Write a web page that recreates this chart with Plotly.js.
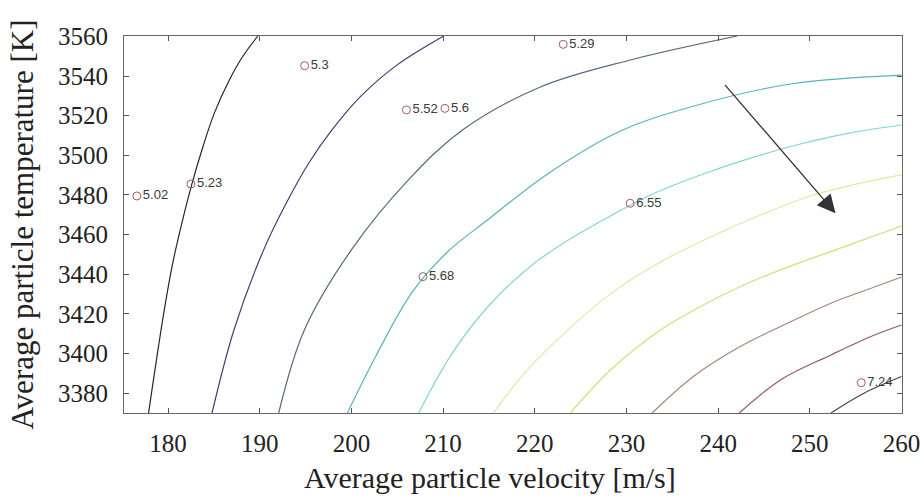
<!DOCTYPE html>
<html>
<head>
<meta charset="utf-8">
<script src="https://cdn.plot.ly/plotly-3.0.1.min.js"></script>
<style>html,body{margin:0;padding:0;background:#fff;}#chart{width:920px;height:497px;}</style>
</head>
<body>
<div id="chart"></div>
<script>
// Contour lines: velocity [m/s] and temperature [K]
const lineA_v = [177.88, 179.54, 180.52, 181.51, 182.60, 183.80, 185.05, 186.69, 188.11, 189.80];
const lineA_t = [3370.0, 3420.5, 3445.7, 3465.8, 3485.5, 3504.2, 3521.3, 3538.0, 3549.6, 3560.2];
const lineB_v = [184.80, 187.19, 190.43, 192.79, 195.34, 197.88, 200.98, 204.96, 210.07];
const lineB_t = [3370.0, 3411.9, 3452.3, 3474.9, 3496.0, 3512.8, 3529.6, 3545.5, 3560.2];
const lineC_v = [192.07, 194.87, 200.00, 206.22, 212.11, 220.62, 230.43, 242.08];
const lineC_t = [3370.0, 3411.9, 3452.3, 3487.6, 3512.8, 3534.5, 3548.1, 3560.2];
const lineD_v = [199.56, 202.73, 206.65, 210.47, 214.84, 221.71, 229.35, 236.99, 247.90, 260.0];
const lineD_t = [3370.0, 3399.3, 3431.1, 3451.2, 3467.4, 3491.6, 3512.3, 3524.4, 3536.0, 3540.5];
const lineE_v = [207.34, 211.02, 215.16, 219.85, 224.21, 228.25, 232.61, 238.07, 243.52, 248.98, 254.43, 260.0];
const lineE_t = [3370.0, 3400.3, 3425.0, 3445.2, 3458.8, 3469.4, 3480.0, 3490.1, 3498.6, 3505.7, 3511.3, 3515.3];
const lineF_v = [215.49, 218.98, 222.80, 228.25, 233.71, 239.16, 244.62, 250.08, 255.53, 260.0];
const lineF_t = [3370.0, 3390.7, 3408.4, 3430.1, 3446.2, 3458.8, 3469.9, 3479.5, 3486.0, 3490.1];
const lineG_v = [223.89, 228.25, 233.71, 238.07, 242.43, 246.79, 252.25, 258.80, 260.0];
const lineG_t = [3370.0, 3391.7, 3411.9, 3423.7, 3433.8, 3442.2, 3451.4, 3462.3, 3464.4];
const lineH_v = [232.8, 237.3, 242.4, 246.8, 252.3, 256.6, 260.0];
const lineH_t = [3370.0, 3388.4, 3403.5, 3413.6, 3425.4, 3432.8, 3438.6];
const lineI_v = [242.3, 246.8, 252.3, 256.6, 260.0];
const lineI_t = [3370.0, 3386.7, 3399.3, 3408.5, 3414.4];
const lineJ_v = [252.3, 255.9, 260.0];
const lineJ_t = [3370.0, 3380.0, 3388.4];

// Measured points and their labels
const pointVelocity = [176.6, 182.5, 194.9, 206.0, 210.2, 223.1, 230.4, 207.8, 255.6];
const pointTemperature = [3479.5, 3485.5, 3545.2, 3522.9, 3523.7, 3556.0, 3475.8, 3438.8, 3385.3];
const pointLabels = ['5.02', '5.23', '5.3', '5.52', '5.6', '5.29', '6.55', '5.68', '7.24'];

// Tick values
const xTicks = [180, 190, 200, 210, 220, 230, 240, 250, 260];
const yTicks = [3380, 3400, 3420, 3440, 3460, 3480, 3500, 3520, 3540, 3560];

// Arrow (start and tip) in data units
const arrowStart = [240.6, 3536.3];
const arrowTip = [252.8, 3470.8];

const lines = [
  [lineA_v, lineA_t], [lineB_v, lineB_t], [lineC_v, lineC_t], [lineD_v, lineD_t], [lineE_v, lineE_t],
  [lineF_v, lineF_t], [lineG_v, lineG_t], [lineH_v, lineH_t], [lineI_v, lineI_t], [lineJ_v, lineJ_t]
];
const lineColors = ['#25253a', '#3f3f72', '#56697c', '#55b3bd', '#86d3d6', '#e2e7a4', '#d9dc7c', '#a9867a', '#94566f', '#4a4048'];

const traces = lines.map((l, i) => ({
  type: 'scatter', mode: 'lines', x: l[0], y: l[1],
  line: {color: lineColors[i], width: 1.2, shape: 'spline', smoothing: 1},
  hoverinfo: 'skip', showlegend: false
}));

traces.push({
  type: 'scatter', mode: 'markers+text', x: pointVelocity, y: pointTemperature,
  text: pointLabels, textposition: 'middle right',
  textfont: {family: 'Liberation Sans, Arial, sans-serif', size: 13, color: '#3a3a3a'},
  marker: {symbol: 'circle-open', size: 8, color: '#a8586a', line: {width: 1, color: '#a8586a'}},
  showlegend: false, cliponaxis: false
});

const serif = 'Liberation Serif, Times New Roman, serif';
const layout = {
  width: 920, height: 497,
  margin: {l: 124, r: 18, t: 36, b: 84},
  paper_bgcolor: '#fff', plot_bgcolor: '#fff',
  showlegend: false,
  xaxis: {
    range: [175.2, 260.05], tickvals: xTicks, ticks: 'inside', ticklen: 5, tickcolor: '#555',
    showline: true, linecolor: '#666', linewidth: 1, mirror: 'ticks',
    showgrid: false, zeroline: false, automargin: false, ticklabeloverflow: 'allow',
    tickfont: {family: serif, size: 25, color: '#222'}, ticklabelstandoff: 8
  },
  yaxis: {
    range: [3370, 3560.2], tickvals: yTicks, ticks: 'inside', ticklen: 5, tickcolor: '#555',
    showline: true, linecolor: '#666', linewidth: 1, mirror: 'ticks',
    showgrid: false, zeroline: false, automargin: false, ticklabeloverflow: 'allow',
    tickfont: {family: serif, size: 25, color: '#222'}, ticklabelstandoff: 10,
    title: {text: 'Average particle temperature [K]', font: {family: serif, size: 31, color: '#222'}, standoff: 15}
  },
  annotations: [{
    x: arrowTip[0], y: arrowTip[1], ax: arrowStart[0], ay: arrowStart[1],
    xref: 'x', yref: 'y', axref: 'x', ayref: 'y', text: '', showarrow: true,
    arrowhead: 2, arrowsize: 2.8, arrowwidth: 1.3, arrowcolor: '#333', standoff: 0
  }, {
    text: 'Average particle velocity [m/s]', showarrow: false,
    xref: 'paper', yref: 'paper', x: 0.4707, y: -0.172, xanchor: 'center', yanchor: 'middle',
    font: {family: serif, size: 30, color: '#222'}
  }]
};

Plotly.newPlot('chart', traces, layout, {displayModeBar: false, staticPlot: true});
</script>
</body>
</html>
